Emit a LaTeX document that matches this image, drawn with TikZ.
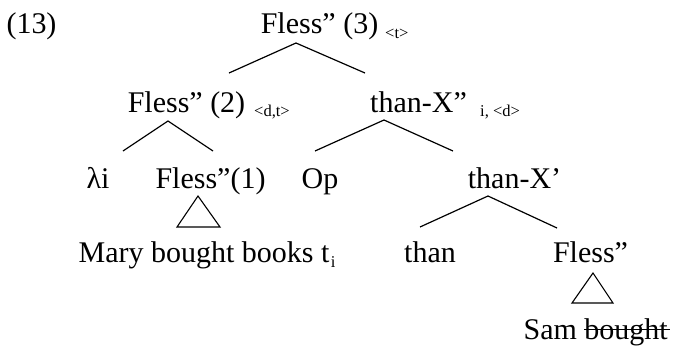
\documentclass[tikz,border=0pt]{standalone}
\usepackage{fontspec}
\setmainfont{Liberation Serif}
\tikzset{
  lab/.style={inner sep=0pt, anchor=base, font=\fontsize{30}{34}\selectfont},
  sub/.style={inner sep=0pt, anchor=base west, font=\fontsize{16.5}{18}\selectfont},
  branch/.style={line width=1.2pt},
  tri/.style={line width=1.1pt, line join=miter},
}
\begin{document}
\begin{tikzpicture}[x=1pt,y=-1pt]
\useasboundingbox (0,0) rectangle (673,346);
% row 1
\node[lab] (num) at (31.5,33) {(13)};
\node[lab] (root) at (319.5,33) {Fless” (3)};
\node[sub] (rootsub) at (385,38) {<t>};
% row 2
\node[lab] (fl2) at (186.5,112) {Fless” (2)};
\node[sub] (fl2sub) at (254,116) {<d,t>};
\node[lab] (thx2) at (418.5,112) {than-X”};
\node[sub] (thx2sub) at (480,116) {i, <d>};
% row 3
\node[lab] (lam) at (98,188) {λi};
\node[lab] (fl1) at (210.5,188) {Fless”(1)};
\node[lab] (op) at (320,188) {Op};
\node[lab] (thx1) at (514.5,188) {than-X’};
% row 4
\node[lab] (mary) at (204,262) {Mary bought books t};
\node[sub] (marysub) at ([xshift=1pt,yshift=-5pt]mary.base east) {i};
\node[lab] (than) at (430,262) {than};
\node[lab] (fl0) at (590.5,262) {Fless”};
% row 5
\node[lab, anchor=base east] (bought) at (668,339) {bought};
\node[lab, anchor=base east] (sam) at ([xshift=-7pt]bought.base west) {Sam};
\draw[line width=1.4pt] ([yshift=9.5pt]bought.base west) -- ([xshift=2pt,yshift=9.5pt]bought.base east);
% branch points
\coordinate (r-a) at (296,43);
\coordinate (r-l) at (229,73);
\coordinate (r-r) at (365,73);
\coordinate (f2-a) at (168,121);
\coordinate (f2-l) at (123,151);
\coordinate (f2-r) at (213,151);
\coordinate (t2-a) at (384,120);
\coordinate (t2-l) at (315,151);
\coordinate (t2-r) at (453,151);
\coordinate (t1-a) at (488,196);
\coordinate (t1-l) at (420,227);
\coordinate (t1-r) at (557,228);
\draw[branch] (r-l) -- (r-a) -- (r-r);
\draw[branch] (f2-l) -- (f2-a) -- (f2-r);
\draw[branch] (t2-l) -- (t2-a) -- (t2-r);
\draw[branch] (t1-l) -- (t1-a) -- (t1-r);
% triangles
\coordinate (tri1) at (198,196);
\coordinate (tri2) at (593,273);
\draw[tri] (tri1) -- ++(22,31) -- ++(-43,0) -- cycle;
\draw[tri] (tri2) -- ++(20,30) -- ++(-41,0) -- cycle;
\end{tikzpicture}
\end{document}
